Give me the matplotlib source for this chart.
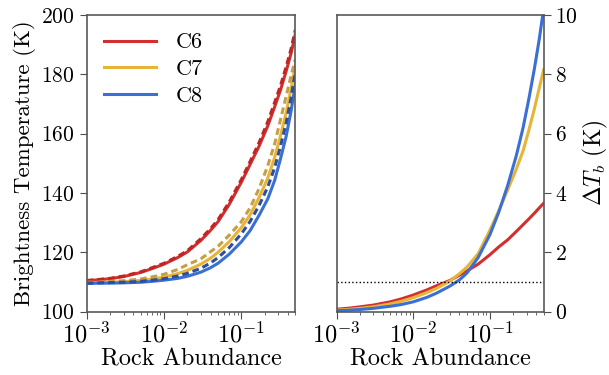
import numpy as np
import matplotlib.pyplot as plt

plt.rcParams['font.family'] = 'serif'
plt.rcParams['font.serif'] = ['cmr10', 'DejaVu Serif']
plt.rcParams['mathtext.fontset'] = 'cm'
plt.rcParams['axes.formatter.use_mathtext'] = True
plt.rcParams['axes.unicode_minus'] = False

# rock abundance samples
rock = [0.001, 0.0015, 0.002, 0.003, 0.005, 0.007, 0.01, 0.015, 0.02, 0.03, 0.04,
        0.05, 0.07, 0.1, 0.13, 0.17, 0.22, 0.27, 0.32, 0.38, 0.44, 0.5]

# brightness temperature (K), solid and dashed models per channel
tb_c6 = [110.4, 110.8, 111.1, 111.8, 113.2, 114.5, 116.0, 118.2, 120.1, 124.0, 127.4,
         130.3, 136.2, 143.6, 149.6, 155.8, 162.6, 169.0, 174.5, 181.0, 187.0, 193.5]
tb_c6_alt = [110.5, 110.9, 111.2, 112.0, 113.4, 114.8, 116.3, 118.6, 120.5, 124.6, 128.0,
             131.0, 137.0, 144.5, 150.6, 157.0, 164.0, 170.5, 176.0, 182.5, 188.5, 195.0]
tb_c7 = [109.7, 109.8, 109.9, 110.1, 110.5, 111.0, 111.6, 112.8, 113.9, 116.0, 118.0,
         120.0, 123.6, 128.3, 132.6, 138.5, 145.0, 152.0, 159.0, 167.0, 175.0, 183.0]
tb_c7_alt = [109.9, 110.0, 110.2, 110.4, 111.0, 111.7, 112.6, 114.2, 115.8, 117.8, 120.2,
             122.0, 125.8, 130.3, 135.0, 141.5, 149.2, 156.5, 164.5, 172.5, 179.5, 185.0]
tb_c8 = [109.5, 109.6, 109.6, 109.7, 109.9, 110.2, 110.6, 111.2, 111.9, 113.3, 114.8,
         116.3, 119.4, 123.5, 127.3, 132.5, 138.0, 144.2, 151.3, 159.0, 167.5, 176.5]
tb_c8_alt = [109.6, 109.7, 109.8, 109.9, 110.2, 110.6, 111.1, 112.0, 112.9, 114.6, 116.4,
             118.2, 121.6, 126.2, 130.4, 135.8, 142.0, 148.5, 155.5, 163.5, 172.0, 181.0]

# brightness temperature difference (K)
dtb_c6 = [0.08, 0.12, 0.16, 0.22, 0.33, 0.43, 0.56, 0.73, 0.87, 1.05, 1.23,
          1.37, 1.60, 1.92, 2.18, 2.42, 2.70, 2.93, 3.12, 3.32, 3.50, 3.65]
dtb_c7 = [0.05, 0.08, 0.11, 0.16, 0.26, 0.35, 0.47, 0.64, 0.78, 1.03, 1.28,
          1.50, 1.95, 2.75, 3.40, 4.10, 4.80, 5.42, 6.10, 6.85, 7.55, 8.15]
dtb_c8 = [0.03, 0.05, 0.07, 0.11, 0.18, 0.24, 0.33, 0.48, 0.62, 0.86, 1.07,
          1.30, 1.82, 2.60, 3.35, 4.25, 5.25, 6.20, 7.15, 8.20, 9.20, 10.2]

labels = ['C6', 'C7', 'C8']
colors = ['#d1302f', '#e8b437', '#3a6fd4']
dark = ['#c02525', '#c4a043', '#2c4f9e']

fig = plt.figure(figsize=(6.09, 3.75), dpi=100)
ax1 = fig.add_axes([0.1424, 0.169, 0.3425, 0.791])
ax2 = fig.add_axes([0.5527, 0.169, 0.3399, 0.791])

for solid, dashed, c, cd, lab in zip([tb_c6, tb_c7, tb_c8], [tb_c6_alt, tb_c7_alt, tb_c8_alt],
                                      colors, dark, labels):
    ax1.plot(rock, solid, color=c, lw=2.2, label=lab)
    ax1.plot(rock, dashed, color=cd, lw=2.2, ls=(0, (2.2, 1.3)))

ax1.set_xscale('log')
ax1.set_xlim(1e-3, 0.5)
ax1.set_ylim(100, 200)
ax1.set_yticks([100, 120, 140, 160, 180, 200])
ax1.set_xlabel('Rock Abundance', fontsize=17.5, labelpad=1)
ax1.set_ylabel('Brightness Temperature (K)', fontsize=16.5)
ax1.legend(loc='upper left', frameon=False, fontsize=16, handlelength=2.3,
           borderaxespad=0.4, labelspacing=0.33, handletextpad=0.9)

for d, c in zip([dtb_c6, dtb_c7, dtb_c8], colors):
    ax2.plot(rock, d, color=c, lw=2.2)
ax2.axhline(1.0, color='k', lw=1, ls=':')

ax2.set_xscale('log')
ax2.set_xlim(1e-3, 0.5)
ax2.set_ylim(0, 10)
ax2.yaxis.tick_right()
ax2.yaxis.set_label_position('right')
ax2.set_xlabel('Rock Abundance', fontsize=17.5, labelpad=1)
ax2.set_ylabel(r'$\Delta T_b$ (K)', fontsize=17, labelpad=2)

for ax in (ax1, ax2):
    ax.tick_params(axis='x', labelsize=17.5, pad=2)
    ax.tick_params(axis='y', labelsize=15.5)
    ax.tick_params(direction='out', color='0.3', length=5)
    ax.tick_params(which='minor', color='0.3')
    for s in ax.spines.values():
        s.set_color('0.35')
        s.set_linewidth(1.2)

fig.savefig('out.png', dpi=100)
